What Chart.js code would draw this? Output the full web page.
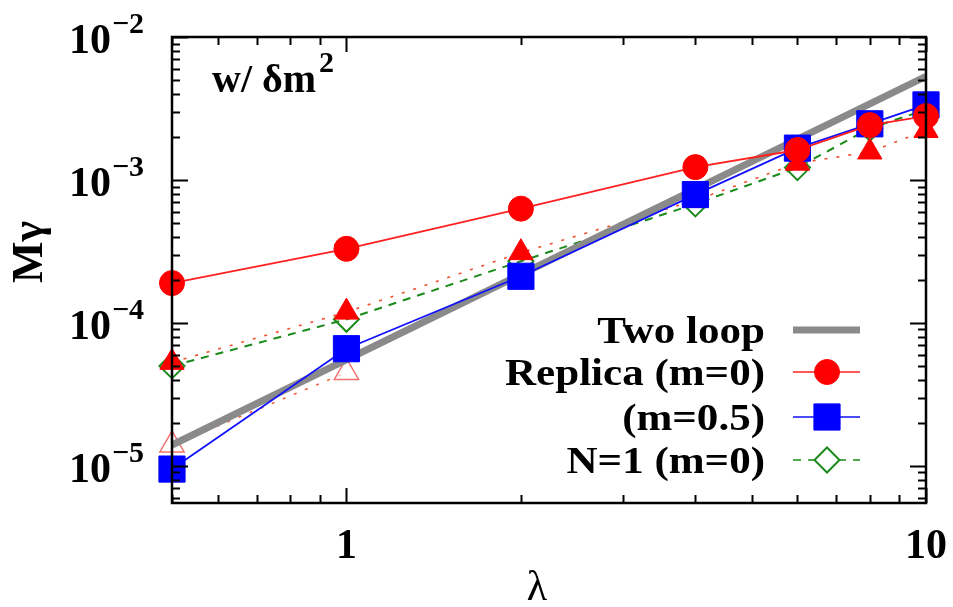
<!DOCTYPE html>
<html>
<head>
<meta charset="utf-8">
<script src="https://cdn.jsdelivr.net/npm/chart.js@4/dist/chart.umd.min.js"></script>
<style>
  html, body { margin: 0; padding: 0; background: #fff; }
  #wrap { width: 953px; height: 607px; }
</style>
</head>
<body>
<div id="wrap"><canvas id="myChart" width="953" height="607"></canvas></div>
<script>
// Data
const lambda = [0.5, 1, 2, 4, 6, 8, 10];
const replicaM0 = [1.9e-4, 3.3e-4, 6.3e-4, 1.23e-3, 1.62e-3, 2.42e-3, 2.8e-3];
const replicaM05 = [9.5e-6, 6.6e-5, 2.12e-4, 7.9e-4, 1.67e-3, 2.47e-3, 3.35e-3];
const n1M0 = [5.0e-5, 1.06e-4, 2.7e-4, 6.8e-4, 1.22e-3, 2.3e-3, 3.1e-3];
const triFilled = [5.3e-5, 1.19e-4, 3.1e-4, 7.2e-4, 1.31e-3, 1.57e-3, 2.22e-3];
const triOpenLambda = [0.5, 1];
const triOpen = [1.4e-5, 4.5e-5];
const twoLoopLambda = [0.5, 10];
const twoLoop = [1.4e-5, 5.3e-3];

const xTickLabels = [1, 10];
const yTickExps = [-5, -4, -3, -2];
const legendLabels = ['Two loop', 'Replica (m=0)', '(m=0.5)', 'N=1 (m=0)'];

const pts = (xs, ys) => xs.map((x, i) => ({ x, y: ys[i] }));

const SERIF = '"Liberation Serif", "Times New Roman", serif';

// frame, ticks, tick labels, titles and key
const decor = {
  id: 'decor',
  afterDraw(chart) {
    const { ctx, chartArea: a, scales: { x, y } } = chart;
    ctx.save();
    ctx.strokeStyle = '#000';
    ctx.lineWidth = 2;

    // log ticks, inward, mirrored
    ctx.beginPath();
    for (let d = -1; d <= 1; d++) {
      for (let k = 1; k <= 9; k++) {
        const v = k * Math.pow(10, d);
        if (v < x.min - 1e-9 || v > x.max + 1e-9) continue;
        const px = Math.round(x.getPixelForValue(v)) + 0.5;
        const len = k === 1 ? 15 : 8;
        ctx.moveTo(px, a.bottom); ctx.lineTo(px, a.bottom - len);
        ctx.moveTo(px, a.top); ctx.lineTo(px, a.top + len);
      }
    }
    for (let d = -6; d <= -2; d++) {
      for (let k = 1; k <= 9; k++) {
        const v = k * Math.pow(10, d);
        if (v < y.min * 0.999 || v > y.max * 1.001) continue;
        const py = Math.round(y.getPixelForValue(v)) + 0.5;
        const len = k === 1 ? 16 : 8;
        ctx.moveTo(a.left, py); ctx.lineTo(a.left + len, py);
        ctx.moveTo(a.right, py); ctx.lineTo(a.right - len, py);
      }
    }
    ctx.stroke();

    ctx.lineWidth = 2.5;
    ctx.strokeRect(a.left, a.top, a.right - a.left, a.bottom - a.top);

    ctx.fillStyle = '#000';
    ctx.textBaseline = 'alphabetic';
    // y tick labels 10^n
    yTickExps.forEach(e => {
      const py = y.getPixelForValue(Math.pow(10, e));
      ctx.font = 'bold 42px ' + SERIF;
      ctx.textAlign = 'right';
      ctx.fillText('10', 111, py + 16);
      ctx.font = 'bold 30px ' + SERIF;
      ctx.textAlign = 'left';
      ctx.fillText('\u2212' + (-e), 112, py - 4);
    });
    // x tick labels
    ctx.font = 'bold 42px ' + SERIF;
    ctx.textAlign = 'center';
    xTickLabels.forEach(v => {
      ctx.fillText(String(v), x.getPixelForValue(v), 558);
    });

    // axis titles
    ctx.font = '42px ' + SERIF;
    ctx.fillText('\u03bb', (a.left + a.right) / 2 - 12, 600);
    ctx.save();
    ctx.translate(42, 252);
    ctx.rotate(-Math.PI / 2);
    ctx.textAlign = 'center';
    ctx.font = 'bold 44px ' + SERIF;
    ctx.fillText('M\u03b3', 0, 0);
    ctx.restore();

    // panel note
    ctx.textAlign = 'left';
    ctx.font = 'bold 40px ' + SERIF;
    ctx.fillText('w/ \u03b4m', 212, 92);
    const wNote = ctx.measureText('w/ \u03b4m').width;
    ctx.font = 'bold 30px ' + SERIF;
    ctx.fillText('2', 212 + wNote + 3, 72);

    // key, text stretched to the reference width
    const rows = [330, 372, 417, 460];
    const ds = chart.data.datasets;
    ctx.font = 'bold 38px ' + SERIF;
    const sx = 260 / ctx.measureText(legendLabels[1]).width;
    rows.forEach((ry, i) => {
      ctx.save();
      ctx.translate(765, ry + 13);
      ctx.scale(sx, 1);
      ctx.textAlign = 'right';
      ctx.font = 'bold 38px ' + SERIF;
      ctx.fillStyle = '#000';
      ctx.fillText(legendLabels[i], 0, 0);
      ctx.restore();

      const d = ds[i];
      ctx.save();
      ctx.strokeStyle = d.borderColor;
      ctx.lineWidth = i === 0 ? d.borderWidth : 1.5;
      ctx.setLineDash(d.borderDash || []);
      ctx.beginPath();
      ctx.moveTo(793, ry); ctx.lineTo(860, ry);
      ctx.stroke();
      ctx.setLineDash([]);
      if (i > 0) {
        const r = d.pointRadius;
        ctx.fillStyle = i === 3 ? '#fff' : d.pointBackgroundColor;
        ctx.strokeStyle = d.pointBorderColor;
        ctx.lineWidth = d.pointBorderWidth;
        ctx.beginPath();
        if (d.pointStyle === 'circle') ctx.arc(827, ry, r, 0, Math.PI * 2);
        else if (d.pointStyle === 'rect') { const s = r * Math.SQRT1_2; ctx.rect(827 - s, ry - s, 2 * s, 2 * s); }
        else { ctx.moveTo(827 - r, ry); ctx.lineTo(827, ry - r); ctx.lineTo(827 + r, ry); ctx.lineTo(827, ry + r); ctx.closePath(); }
        ctx.fill();
        ctx.stroke();
      }
      ctx.restore();
    });
    ctx.restore();
  }
};

const data = {
  datasets: [
    {
      label: 'Two loop',
      data: pts(twoLoopLambda, twoLoop),
      borderColor: '#8a8a8a',
      borderWidth: 7,
      pointRadius: 0,
      showLine: true,
      order: 4,
    },
    {
      label: 'Replica (m=0)',
      data: pts(lambda, replicaM0),
      borderColor: '#ff2020',
      borderWidth: 1.8,
      pointStyle: 'circle',
      pointRadius: 12.5,
      pointBackgroundColor: '#ff0000',
      pointBorderColor: '#ff0000',
      pointBorderWidth: 1,
      showLine: true,
      order: 0,
    },
    {
      label: '(m=0.5)',
      data: pts(lambda, replicaM05),
      borderColor: '#1010ff',
      borderWidth: 1.8,
      pointStyle: 'rect',
      pointRadius: 18.5,
      pointBackgroundColor: '#0000ff',
      pointBorderColor: '#0000ff',
      pointBorderWidth: 1,
      showLine: true,
      order: 2,
    },
    {
      label: 'N=1 (m=0)',
      data: pts(lambda, n1M0),
      borderColor: '#1a8a1a',
      borderWidth: 2,
      borderDash: [8, 7],
      pointStyle: 'rectRot',
      pointRadius: 12.5,
      pointBackgroundColor: 'rgba(255,255,255,0)',
      pointBorderColor: '#1a8a1a',
      pointBorderWidth: 2,
      showLine: true,
      order: 6,
    },
    {
      label: 'N=1 (m=0.5)',
      data: pts(lambda, triFilled),
      borderColor: '#f05030',
      borderWidth: 1.6,
      borderDash: [3, 9],
      pointStyle: 'triangle',
      pointRadius: 14,
      pointBackgroundColor: '#ff0000',
      pointBorderColor: '#ff0000',
      pointBorderWidth: 1,
      showLine: true,
      order: 5,
    },
    {
      label: 'open',
      data: pts(triOpenLambda, triOpen),
      borderColor: '#f06040',
      borderWidth: 1.6,
      borderDash: [3, 9],
      pointStyle: 'triangle',
      pointRadius: 14,
      pointBackgroundColor: 'rgba(255,255,255,0.7)',
      pointBorderColor: '#f07070',
      pointBorderWidth: 1.5,
      showLine: true,
      order: 7,
    },
  ],
};

const config = {
  type: 'scatter',
  data,
  options: {
    responsive: false,
    animation: false,
    events: [],
    clip: false,
    layout: {
      padding: { left: 172, top: 37, right: 27, bottom: 104 },
    },
    plugins: {
      legend: { display: false },
      tooltip: { enabled: false },
    },
    scales: {
      x: { type: 'logarithmic', min: 0.5, max: 10, display: false },
      y: { type: 'logarithmic', min: 5.5e-6, max: 1e-2, display: false },
    },
  },
  plugins: [decor],
};

const myChart = new Chart(document.getElementById('myChart'), config);
</script>
</body>
</html>
